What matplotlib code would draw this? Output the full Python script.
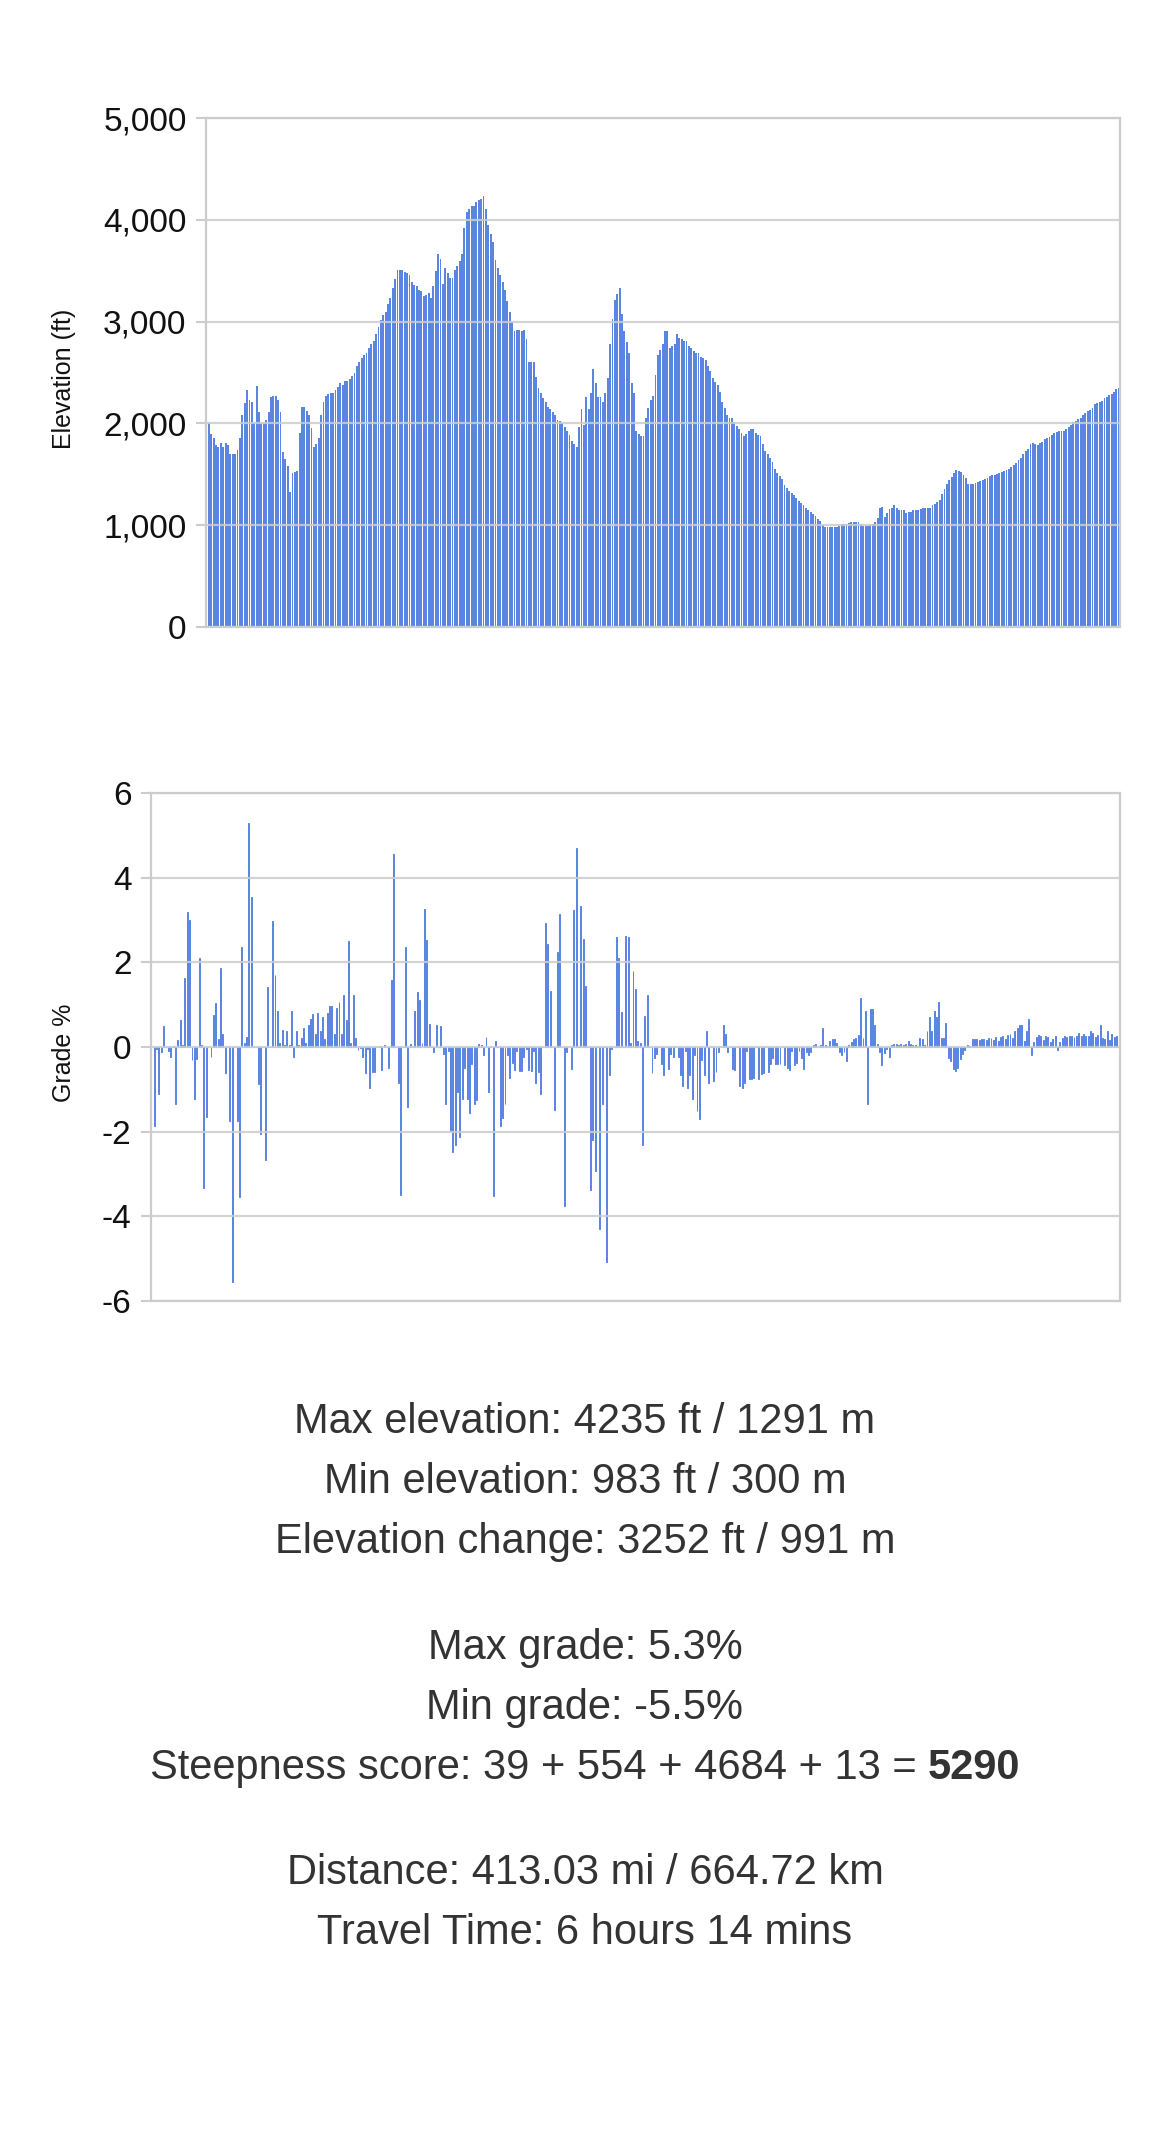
import numpy as np
import matplotlib
matplotlib.use('Agg')
import matplotlib.pyplot as plt
from matplotlib.ticker import FuncFormatter

plt.rcParams['font.family'] = ['Liberation Sans', 'DejaVu Sans']
plt.rcParams['axes.unicode_minus'] = False

# elevation along the route (ft) left to right
elevation_ft = [
    2000, 1900, 1858, 1790, 1767, 1810, 1767, 1810, 1790, 1700,
    1700, 1700, 1743, 1858, 2087, 2200, 2324, 2230, 2206, 2000,
    2365, 2111, 2000, 2000, 2034, 2111, 2257, 2270, 2274, 2230,
    2111, 1716, 1650, 1581, 1328, 1514, 1520, 1530, 1902, 2162,
    2162, 2120, 2087, 1953, 1767, 1800, 1858, 2087, 2206, 2274,
    2290, 2297, 2297, 2324, 2360, 2392, 2380, 2419, 2419, 2440,
    2466, 2493, 2560, 2601, 2640, 2669, 2696, 2737, 2780, 2814,
    2878, 2949, 3017, 3060, 3095, 3176, 3230, 3330, 3422, 3507,
    3507, 3507, 3490, 3480, 3456, 3389, 3360, 3345, 3311, 3298,
    3254, 3265, 3277, 3230, 3345, 3500, 3668, 3618, 3372, 3527,
    3480, 3433, 3433, 3507, 3550, 3594, 3668, 3921, 4079, 4110,
    4133, 4133, 4173, 4190, 4200, 4235, 4106, 3945, 3860, 3786,
    3601, 3527, 3460, 3392, 3311, 3203,
    3095, 2994, 2910, 2920, 2915, 2910, 2920, 2832, 2601, 2601,
    2601, 2459, 2351, 2300, 2250, 2206, 2162, 2138, 2110, 2081,
    2034, 2020, 2000, 1966, 1922, 1883, 1832, 1800, 1767, 1966,
    2138, 1983, 2257, 2138, 2297, 2530, 2400, 2257, 2257, 2206,
    2300, 2443, 2780, 3027, 3210, 3270, 3328, 3075, 2904, 2800,
    2696, 2392, 2297, 1922, 1900, 1875, 1875, 2057, 2150, 2230,
    2274, 2476, 2669, 2720, 2780, 2904, 2904, 2737, 2760, 2780,
    2878, 2838, 2830, 2814, 2814, 2764, 2737, 2715, 2696, 2696,
    2655, 2640, 2622, 2567, 2510, 2443, 2410, 2382, 2304, 2206,
    2150, 2087, 2057, 2057, 2010, 1975, 1943, 1902, 1875, 1900,
    1922, 1943, 1943, 1902, 1890, 1875, 1797, 1733, 1700, 1665,
    1618, 1551, 1514, 1480, 1453, 1392, 1369, 1340, 1315, 1292,
    1268, 1241, 1220, 1200, 1173, 1146, 1130, 1113, 1089, 1065, 1038,
    998, 983, 983, 985, 983, 983, 983, 990, 1011, 1011,
    1015, 1021, 1031, 1031, 1031, 1031, 1011, 988, 988, 988,
    998, 1011, 1031, 1072, 1173, 1180, 1079, 1120, 1156, 1173,
    1200, 1170, 1146, 1146, 1146, 1122, 1125, 1133, 1146, 1146,
    1150, 1156, 1173, 1173, 1170, 1173, 1200, 1207, 1225, 1247,
    1308, 1358, 1409, 1440, 1477, 1510, 1544, 1535, 1527, 1494,
    1460, 1403, 1403, 1403, 1416, 1426, 1436, 1445, 1450, 1460,
    1484, 1490, 1494, 1504, 1517, 1527, 1535, 1544, 1551, 1571,
    1590, 1611, 1638, 1665, 1696, 1725, 1753, 1797, 1807, 1797,
    1787, 1807, 1820, 1848, 1856, 1864, 1888, 1908, 1915, 1922,
    1922, 1922, 1949, 1966, 1983, 2010, 2024, 2040, 2057, 2078,
    2101, 2118, 2135, 2152, 2193, 2204, 2212, 2220, 2247, 2260,
    2280, 2292, 2304, 2338, 2350,
]

# grade per segment (%)
grade_pct = [
    -1.87, -0.05, -1.1, -0.12, 0.49, 0.0, -0.1, -0.24, 0.02, -1.34,
    0.16, 0.63, 0.05, 1.63, 3.19, 3.0, -0.3, -1.24, -0.28, 2.11,
    0.05, -3.32, -1.65, 0.0, -0.23, 0.75, 1.04, 0.2, 1.87, 0.31,
    -0.61, 0.0, -1.75, -5.54, 0.0, -1.75, -3.54, 2.37, 0.1, 0.23,
    5.3, 3.54, 0.0, 0.0, -0.88, -2.06, 0.0, -2.68, 1.42, 0.0,
    2.97, 1.69, 0.84, 0.1, 0.41, 0.04, 0.37, 0.05, 0.85, -0.23,
    0.38, 0.05, 0.22, 0.45, 0.1, 0.53, 0.67, 0.77, 0.3, 0.81,
    0.38, 0.72, 0.2, 0.8, 0.96, 0.96, 0.3, 0.93, 1.07, 0.3,
    1.22, 0.63, 2.5, 0.1, 1.22, 0.22, -0.07, -0.02, -0.24, -0.61,
    -0.05, -0.96, -0.59, -0.59, 0.0, 0.02, -0.55, 0.04, 0.0, -0.49,
    1.59, 4.57, 0.0, -0.85, -3.5, 0.0, 2.37, -1.41, 0.08, 0.0,
    0.84, 1.3, 1.1, 0.1, 3.25, 2.52, 0.55, 0.0, -0.12, 0.53,
    0.0, 0.49, -0.16, -1.34, -0.1, -1.99, -2.48, -2.32,
    -1.06, -2.13, -1.22, -0.5, -1.22, -1.57, -0.4, -1.34, -1.26, 0.08,
    0.05, -0.2, 0.24, -1.06, 0.0, -3.51, 0.15, 0.0, -1.87, -1.67,
    -1.34, -0.2, -0.73, -0.37, -0.55, -0.1, -0.57, -0.57, -0.24, -0.05,
    -0.55, -0.57, -0.1, -0.84, -0.59, -1.12, 0.0, 2.93, 2.44, 1.33,
    0.0, -1.49, 2.24, 3.15, 0.0, -3.76, -0.12, 0.0, -0.53, 3.23,
    4.7, 0.0, 3.33, 2.54, 1.45, 0.0, -3.37, -2.2, -2.93, 0.0,
    -4.29, -1.34, 0.0, -5.07, -0.65, -0.04, 0.0, 2.6, 2.11, 0.83,
    0.0, 2.62, 2.59, 0.1, 1.8, 1.38, 0.15, 0.1, -2.32, 0.73,
    1.24, 0.0, -0.61, -0.27, -0.16, 0.0, -0.39, -0.67, 0.0, -0.53,
    -0.16, -0.24, 0.0, -0.24, -0.67, -0.92, -0.1, -0.98, -0.65, -1.24,
    -0.2, -1.5, -1.71, -0.3, -0.65, 0.37, -0.85, 0.0, -0.81, -0.59,
    -0.12, 0.0, 0.51, 0.3, -0.12, 0.0, -0.53, -0.55, 0.0, -0.93,
    -0.96, -0.84, -0.1, -0.76, -0.76, -0.73, 0.0, -0.76, -0.63, -0.61,
    0.0, -0.59, -0.39, -0.27,
    -0.41, -0.41, -0.41, 0.0, -0.43, -0.49, -0.55, -0.1, -0.43, -0.38,
    -0.1, -0.27, -0.51, -0.12, -0.2, -0.12, 0.04, 0.08, 0.0, 0.04,
    0.46, 0.04, 0.0, 0.15, 0.19, 0.19, 0.1, -0.12, -0.2, -0.12,
    -0.33, 0.04, 0.12, 0.19, 0.22, 0.28, 1.16, 0.22, 0.84, -1.34,
    0.89, 0.89, 0.53, 0.08, -0.12, -0.43, -0.15, -0.04, -0.24, 0.04,
    0.06, 0.06, 0.04, 0.06, 0.04, 0.06, 0.14, 0.08, 0.04, 0.04,
    0.0, 0.22, 0.19, 0.04, 0.38, 0.71, 0.38, 0.84, 0.71, 1.06,
    0.22, 0.22, 0.57, -0.27, -0.33, -0.53, -0.57, -0.49, -0.28, -0.16,
    -0.08, 0.04, 0.02, 0.2, 0.19, 0.2, 0.16, 0.2, 0.19, 0.16,
    0.22, 0.22, 0.16, 0.24, 0.14, 0.24, 0.27, 0.19, 0.28, 0.3,
    0.22, 0.37, 0.46, 0.51, 0.53, 0.14, 0.37, 0.67, -0.2, 0.12,
    0.24, 0.28, 0.27, 0.16, 0.27, 0.24, 0.12, 0.19, 0.27, -0.08,
    0.11, 0.22, 0.27, 0.24, 0.27, 0.27, 0.24, 0.27, 0.33, 0.27,
    0.3, 0.27, 0.27, 0.37, 0.33, 0.24, 0.28, 0.51, 0.22, 0.19,
    0.38, 0.16, 0.3, 0.24, 0.27, 0.69,
]

elev_ticks = [0, 1000, 2000, 3000, 4000, 5000]
grade_ticks = [-6, -4, -2, 0, 2, 4, 6]

stat_groups = [
    ["Max elevation: 4235 ft / 1291 m",
     "Min elevation: 983 ft / 300 m",
     "Elevation change: 3252 ft / 991 m"],
    ["Max grade: 5.3%",
     "Min grade: -5.5%",
     ("Steepness score: 39 + 554 + 4684 + 13 = ", "5290")],
    ["Distance: 413.03 mi / 664.72 km",
     "Travel Time: 6 hours 14 mins"],
]

W, H = 1170, 2135
BAR = '#5a85e1'
GRID = '#cccccc'
TXT = '#333333'


def style_axis(ax):
    """Gray frame, gray gridlines drawn over the bars, no x ticks"""
    ax.set_xticks([])
    ax.set_axisbelow(False)
    ax.grid(axis='y', color=GRID, linewidth=1.6, alpha=0.85)
    for s in ax.spines.values():
        s.set_color(GRID)
        s.set_linewidth(1.6)
    ax.tick_params(axis='y', length=7, width=1.5, color=GRID,
                   labelsize=24, labelcolor='#111111', pad=7)


fig = plt.figure(figsize=(W / 100, H / 100), dpi=100)

# elevation chart
ax1 = fig.add_axes([206 / W, 1 - 627 / H, 914 / W, 509 / H])
x1 = np.arange(len(elevation_ft))
ax1.bar(x1, elevation_ft, width=0.78, color=BAR, linewidth=0, zorder=2)
ax1.set_xlim(-1.2, len(elevation_ft) - 0.5)
ax1.set_ylim(0, 5000)
ax1.set_yticks(elev_ticks)
ax1.yaxis.set_major_formatter(FuncFormatter(lambda v, p: f'{int(v):,}'))
style_axis(ax1)
fig.text(64 / W, 1 - 379 / H, 'Elevation (ft)', rotation=90,
         ha='center', va='center', fontsize=18, color='#111111')

# grade chart - thin bars with an edge so each one stays at least a pixel wide
ax2 = fig.add_axes([151 / W, 1 - 1301 / H, 969 / W, 508 / H])
x2 = np.arange(len(grade_pct))
ax2.bar(x2, grade_pct, width=0.4, color=BAR, edgecolor=BAR,
        linewidth=0.7, zorder=2)
ax2.set_xlim(-1.3, len(grade_pct) - 0.6)
ax2.set_ylim(-6, 6)
ax2.set_yticks(grade_ticks)
ax2.yaxis.set_major_formatter(FuncFormatter(lambda v, p: f'{int(v)}'))
style_axis(ax2)
fig.text(64 / W, 1 - 1053 / H, 'Grade %', rotation=90,
         ha='center', va='center', fontsize=18, color='#111111')

# summary text below the charts
line_y = [[1418, 1478, 1538], [1644, 1704, 1764], [1869, 1929]]
fs = 30
renderer = fig.canvas.get_renderer()
for group, ys in zip(stat_groups, line_y):
    for line, yc in zip(group, ys):
        yb = 1 - (yc + 15) / H
        if isinstance(line, tuple):
            normal, bold = line
            t1 = fig.text(0, yb, normal, fontsize=fs, color=TXT, va='baseline')
            t2 = fig.text(0, yb, bold, fontsize=fs, color=TXT, va='baseline',
                          fontweight='bold')
            w1 = t1.get_window_extent(renderer).width
            w2 = t2.get_window_extent(renderer).width
            x0 = (W - w1 - w2) / 2
            t1.set_x(x0 / W)
            t2.set_x((x0 + w1) / W)
        else:
            fig.text(0.5, yb, line, fontsize=fs, color=TXT,
                     ha='center', va='baseline')

fig.savefig('out.png', dpi=100, facecolor='white')
